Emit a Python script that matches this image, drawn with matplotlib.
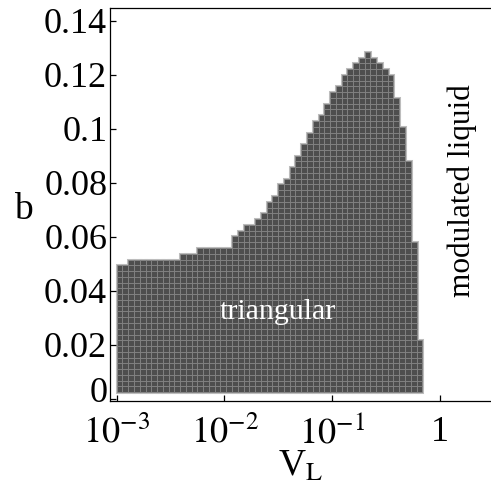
import numpy as np
import matplotlib
matplotlib.use("Agg")
import matplotlib.pyplot as plt
from matplotlib.ticker import FixedLocator, FixedFormatter
from matplotlib.transforms import ScaledTranslation

plt.rcParams["font.family"] = ["Liberation Serif", "DejaVu Serif"]
plt.rcParams["mathtext.fontset"] = "stix"

# Phase grid: V_L columns (log-spaced) and b rows
log_vl_start = -3.0
log_vl_step = 0.0535
b_start = 0.0025
b_step = 0.002137

# Upper edge of the triangular phase in each V_L column
b_top = [
    0.0496, 0.0496, 0.0515, 0.0515, 0.0515, 0.0515, 0.0515, 0.0515, 0.0515, 0.0515,
    0.0526, 0.0537, 0.0537, 0.0544, 0.0552, 0.0560, 0.0563, 0.0563, 0.0563, 0.0567,
    0.0610, 0.0620, 0.0640, 0.0655, 0.0670, 0.0690, 0.0730, 0.0760, 0.0790, 0.0820,
    0.0860, 0.0900, 0.0950, 0.0990, 0.1026, 0.1060, 0.1090, 0.1126, 0.1160, 0.1190,
    0.1220, 0.1244, 0.1260, 0.1278, 0.1270, 0.1250, 0.1226, 0.1190, 0.1110, 0.1000,
    0.0885, 0.0580, 0.0207,
]

y_ticks = [0, 0.02, 0.04, 0.06, 0.08, 0.1, 0.12, 0.14]
y_tick_labels = ["0", "0.02", "0.04", "0.06", "0.08", "0.1", "0.12", "0.14"]
x_ticks = [1e-3, 1e-2, 1e-1, 1]
x_tick_labels = [r"$10^{-3}$", r"$10^{-2}$", r"$10^{-1}$", "1"]

fig = plt.figure(figsize=(4.91, 4.91), dpi=100)
ax = fig.add_axes([0.224, 0.184, 0.776, 0.7997])

# Build the filled cells of the phase diagram
lefts, widths, bottoms = [], [], []
for i, top in enumerate(b_top):
    x0 = 10 ** (log_vl_start + i * log_vl_step)
    x1 = 10 ** (log_vl_start + (i + 1) * log_vl_step)
    n = int(round((top - b_start) / b_step))
    for k in range(n):
        lefts.append(x0)
        widths.append(x1 - x0)
        bottoms.append(b_start + k * b_step)

heights = [b_step] * len(lefts)
# soft light halo around the region, then the cells on top
ax.bar(lefts, heights, width=widths, bottom=bottoms, align="edge",
       color="#b8b8b8", edgecolor="#bdbdbd", linewidth=2.2, zorder=1)
ax.bar(lefts, heights, width=widths, bottom=bottoms, align="edge",
       color="#4e4e4e", edgecolor="#878787", linewidth=0.55, zorder=2)

ax.set_xscale("log")
ax.set_xlim(10 ** -3.062, 2.97)
ax.set_ylim(-0.00063, 0.1448)

ax.xaxis.set_major_locator(FixedLocator(x_ticks))
ax.xaxis.set_major_formatter(FixedFormatter(x_tick_labels))
ax.xaxis.set_minor_locator(FixedLocator([]))
ax.yaxis.set_major_locator(FixedLocator(y_ticks))
ax.yaxis.set_major_formatter(FixedFormatter(y_tick_labels))

ax.tick_params(axis="both", which="major", direction="in", length=4.5, width=0.9,
               labelsize=26, top=False, right=False)
ax.tick_params(axis="y", pad=2)
ax.tick_params(axis="x", pad=11)

# lift the corner "0" label a little so it clears the x labels
zero_tick = ax.yaxis.get_major_ticks()[0]
zero_tick.label1.set_transform(zero_tick.label1.get_transform()
                               + ScaledTranslation(0, 7 / 72, fig.dpi_scale_trans))

ax.spines["right"].set_visible(False)
for s in ("left", "bottom", "top"):
    ax.spines[s].set_linewidth(0.9)
    ax.spines[s].set_zorder(3)

ax.set_xlabel(r"V$_{\mathrm{L}}$", fontsize=27, labelpad=-1)
ax.set_ylabel("b", fontsize=27, rotation=0, va="center", ha="center")
ax.yaxis.set_label_coords(-0.226, 0.486)

ax.text(0.0313, 0.0322, "triangular", color="white", fontsize=21.5,
        ha="center", va="center", zorder=4)
ax.text(1.6, 0.077, "modulated liquid", color="black", fontsize=22.5,
        rotation=90, ha="center", va="center")

fig.savefig("out.png", dpi=100)
